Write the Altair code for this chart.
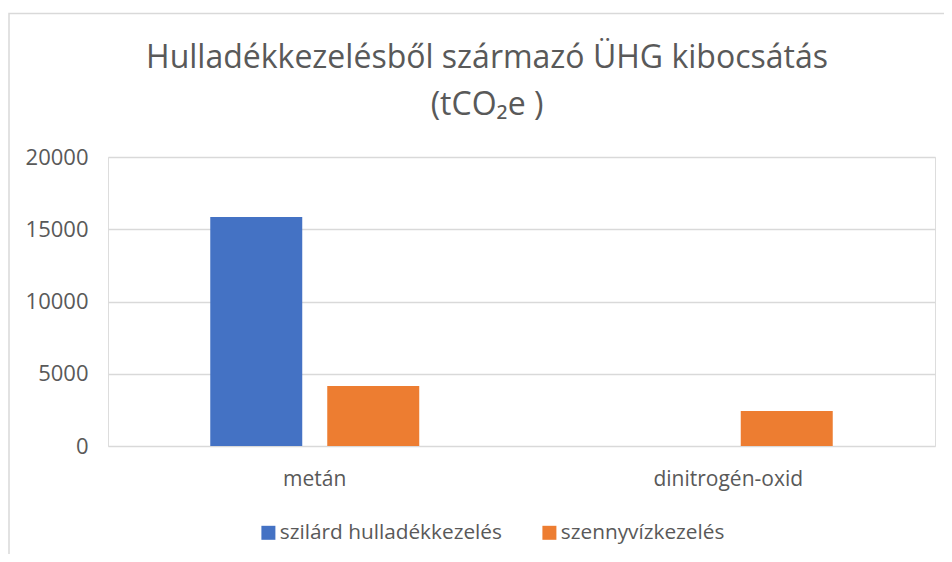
import altair as alt
import pandas as pd

categories = ["metán", "metán", "dinitrogén-oxid", "dinitrogén-oxid"]
series = ["szilárd hulladékkezelés", "szennyvízkezelés", "szilárd hulladékkezelés", "szennyvízkezelés"]
values = [15850, 4150, 0, 2420]

cat_order = ["metán", "dinitrogén-oxid"]
series_order = ["szilárd hulladékkezelés", "szennyvízkezelés"]
colors = ["#4472C4", "#ED7D31"]
y_ticks = [0, 5000, 10000, 15000, 20000]
title_lines = ["Hulladékkezelésből származó ÜHG kibocsátás", "(tCO₂e )"]

df = pd.DataFrame({"kategoria": categories, "sorozat": series, "ertek": values})

FONT = "Open Sans"
TXT = "#595959"

one = pd.DataFrame({"a": [0]})

border = alt.Chart(one).mark_rect(
    fill="white", fillOpacity=0, stroke="#D9D9D9", strokeWidth=1.5
).encode(
    x=alt.value(-99), x2=alt.value(900), y=alt.value(-143.5), y2=alt.value(500)
)

title = alt.Chart(one).mark_text(
    font=FONT, fontSize=32, color=TXT, align="center", baseline="alphabetic",
    lineHeight=47
).encode(
    x=alt.value(379), y=alt.value(-89), text=alt.value(title_lines)
)

bars = alt.Chart(df).mark_bar().encode(
    x=alt.X("kategoria:N", sort=cat_order,
            scale=alt.Scale(paddingInner=0.4946, paddingOuter=0.2473),
            axis=alt.Axis(title=None, labelAngle=0, ticks=False, domain=False,
                          labelFontSize=21, labelColor=TXT, labelFont=FONT,
                          labelPadding=22)),
    xOffset=alt.XOffset("sorozat:N", sort=series_order,
                        scale=alt.Scale(paddingInner=0.2137, paddingOuter=0)),
    y=alt.Y("ertek:Q", scale=alt.Scale(domain=[0, 20000]),
            axis=alt.Axis(title=None, values=y_ticks, format="d", ticks=False,
                          domain=False, gridColor="#D9D9D9", gridWidth=1.3,
                          labelFontSize=22, labelColor=TXT, labelFont=FONT,
                          labelPadding=20)),
    color=alt.Color("sorozat:N", sort=series_order,
                    scale=alt.Scale(domain=series_order, range=colors),
                    legend=alt.Legend(title=None, orient="none", direction="horizontal",
                                      legendX=150, legendY=365,
                                      symbolType="square", symbolSize=196,
                                      symbolStrokeWidth=0, symbolOpacity=1,
                                      labelFontSize=20.8, labelColor=TXT, labelFont=FONT,
                                      labelOffset=1, columnPadding=37, labelLimit=0)),
)

chart = alt.layer(border, title, bars).properties(
    width=827,
    height=289,
    autosize=alt.AutoSizeParams(type="none"),
    padding={"left": 100, "top": 149, "right": 9, "bottom": 108},
).configure_view(stroke=None).configure(background="white")

chart.save("out.html", embed_options={"renderer": "svg", "actions": False})
